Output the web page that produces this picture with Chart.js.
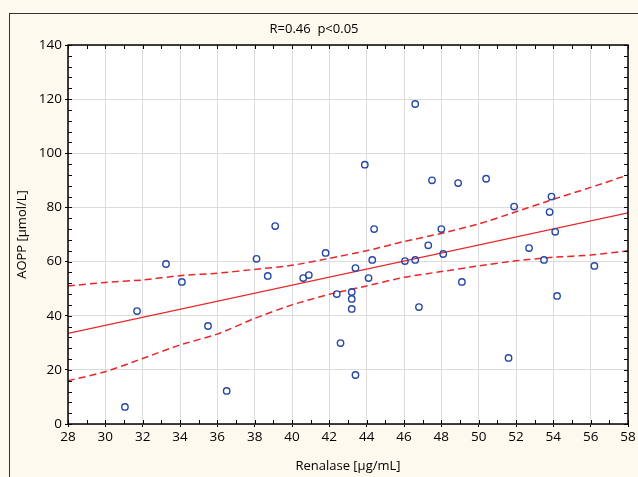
<!DOCTYPE html>
<html>
<head>
<meta charset="utf-8">
<script src="https://cdn.jsdelivr.net/npm/chart.js@4"></script>
<style>
  html, body { margin: 0; padding: 0; background: #fdf9ee; }
  #wrap { width: 638px; height: 477px; }
</style>
</head>
<body>
<div id="wrap"><canvas id="scatterChart" width="638" height="477"></canvas></div>
<script>
// Renalase (x) vs AOPP (y)
const renalase = [31.05, 31.7, 33.25, 34.1, 35.5, 36.5, 38.1, 38.7, 39.1, 40.6, 40.9, 41.8,
    42.4, 42.6, 43.2, 43.2, 43.2, 43.4, 43.4, 43.9, 44.1, 44.3, 44.4, 46.05, 46.6, 46.6,
    46.8, 47.3, 47.5, 48.0, 48.1, 48.9, 49.1, 50.4, 51.6, 51.9, 52.7, 53.5, 53.8, 53.9,
    54.1, 54.2, 56.2];
const aopp = [6.3, 41.7, 59.1, 52.5, 36.2, 12.2, 61.0, 54.7, 73.1, 53.9, 55.0, 63.2,
    48.0, 29.9, 46.2, 42.5, 48.8, 57.6, 18.1, 95.8, 53.9, 60.6, 72.0, 60.2, 60.6, 118.2,
    43.2, 66.0, 90.0, 72.0, 62.8, 89.0, 52.5, 90.6, 24.4, 80.3, 65.0, 60.6, 78.3, 84.0,
    71.0, 47.3, 58.4];

// regression line end points
const fitX = [28, 58];
const fitY = [33.5, 78.0];

// 95% confidence band
const bandX = [28, 30, 32, 34, 36, 38, 40, 42, 44, 46, 48, 50, 52, 54, 56, 58];
const upperBand = [51.0, 52.3, 53.2, 54.8, 55.7, 57.1, 58.6, 61.2, 64.0, 67.4, 70.4, 73.9, 78.4, 83.0, 87.4, 92.0];
const lowerBand = [16.0, 19.3, 24.2, 29.2, 33.2, 39.0, 44.0, 47.9, 51.0, 54.2, 56.3, 58.4, 60.3, 61.6, 62.4, 64.0];

const xTitle = 'Renalase [µg/mL]';
const yTitle = 'AOPP [µmol/L]';
const chartTitle = 'R=0.46  p<0.05';

const FONT = "'Open Sans', 'DejaVu Sans', sans-serif";
const RED = '#e8262b';
const BLUE = '#2548a8';

function toPoints(xs, ys) {
    return xs.map(function (x, i) { return {x: x, y: ys[i]}; });
}

// cream panel, white plot area, frame and inward minor ticks
const framePlugin = {
    id: 'frame',
    beforeDraw: function (chart) {
        const ctx = chart.ctx;
        const a = chart.chartArea;
        ctx.save();
        ctx.fillStyle = '#fdf9ee';
        ctx.fillRect(0, 0, chart.width, chart.height);
        ctx.strokeStyle = '#333';
        ctx.lineWidth = 1;
        ctx.strokeRect(9.5, 13.5, chart.width + 20, chart.height + 20);
        ctx.fillStyle = '#ffffff';
        ctx.fillRect(a.left, a.top, a.right - a.left, a.bottom - a.top);
        ctx.restore();
    },
    afterDraw: function (chart) {
        const ctx = chart.ctx;
        const a = chart.chartArea;
        const xs = chart.scales.x;
        const ys = chart.scales.y;
        ctx.save();
        ctx.strokeStyle = '#000';
        ctx.lineWidth = 1;
        ctx.beginPath();
        for (let v = xs.min; v <= xs.max; v += 1) {
            const px = Math.round(xs.getPixelForValue(v)) + 0.5;
            ctx.moveTo(px, a.bottom); ctx.lineTo(px, a.bottom - 4);
            ctx.moveTo(px, a.top); ctx.lineTo(px, a.top + 4);
        }
        for (let v = ys.min; v <= ys.max; v += 4) {
            const py = Math.round(ys.getPixelForValue(v)) + 0.5;
            ctx.moveTo(a.left, py); ctx.lineTo(a.left + 4, py);
            ctx.moveTo(a.right, py); ctx.lineTo(a.right - 4, py);
        }
        ctx.stroke();
        ctx.lineWidth = 1.5;
        ctx.strokeRect(a.left, a.top, a.right - a.left, a.bottom - a.top);
        ctx.restore();
    }
};

let scatterChart = new Chart(document.getElementById('scatterChart'), {
    type: 'scatter',
    data: {
        datasets: [
            {
                label: 'Data',
                data: toPoints(renalase, aopp),
                pointStyle: 'circle',
                pointRadius: 3.2,
                backgroundColor: 'rgba(0,0,0,0)',
                borderColor: BLUE,
                borderWidth: 1.4
            },
            {
                label: 'Fit',
                type: 'line',
                data: toPoints(fitX, fitY),
                borderColor: RED,
                borderWidth: 1.3,
                pointRadius: 0,
                fill: false,
                tension: 0
            },
            {
                label: 'Upper 95%',
                type: 'line',
                data: toPoints(bandX, upperBand),
                borderColor: RED,
                borderWidth: 1.5,
                borderDash: [7, 4],
                pointRadius: 0,
                fill: false,
                tension: 0.2
            },
            {
                label: 'Lower 95%',
                type: 'line',
                data: toPoints(bandX, lowerBand),
                borderColor: RED,
                borderWidth: 1.5,
                borderDash: [7, 4],
                pointRadius: 0,
                fill: false,
                tension: 0.2
            }
        ]
    },
    options: {
        responsive: false,
        animation: false,
        layout: {
            padding: {left: 0, right: 10, top: 0, bottom: 0}
        },
        plugins: {
            legend: {display: false},
            tooltip: {enabled: false},
            title: {
                display: true,
                text: chartTitle,
                color: '#000',
                font: {family: FONT, size: 13, weight: 'normal'},
                padding: {top: 21, bottom: 8.4}
            }
        },
        scales: {
            x: {
                type: 'linear',
                min: 28,
                max: 58,
                afterFit: function (scale) { scale.height = 53; },
                ticks: {
                    stepSize: 2,
                    color: '#000',
                    font: {family: FONT, size: 13.5},
                    padding: 2
                },
                grid: {
                    color: '#dcdcdc',
                    lineWidth: 1,
                    tickLength: 3,
                    tickColor: '#000'
                },
                border: {display: false},
                title: {
                    display: true,
                    text: xTitle,
                    color: '#000',
                    font: {family: FONT, size: 13},
                    padding: {top: 0, bottom: 3}
                }
            },
            y: {
                type: 'linear',
                min: 0,
                max: 140,
                afterFit: function (scale) { scale.width = 68; },
                ticks: {
                    stepSize: 20,
                    color: '#000',
                    font: {family: FONT, size: 13.5},
                    padding: 3
                },
                grid: {
                    color: '#dcdcdc',
                    lineWidth: 1,
                    tickLength: 3,
                    tickColor: '#000'
                },
                border: {display: false},
                title: {
                    display: true,
                    text: yTitle,
                    color: '#000',
                    font: {family: FONT, size: 13},
                    padding: {top: 14, bottom: 0}
                }
            }
        }
    },
    plugins: [framePlugin]
});
</script>
</body>
</html>
